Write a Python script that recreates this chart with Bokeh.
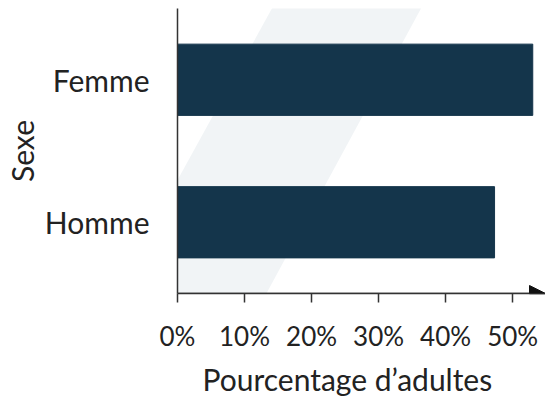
from bokeh.plotting import figure
from bokeh.models import (FactorRange, Range1d, Arrow, NormalHead, PolyAnnotation,
                          FixedTicker, Title)
from bokeh.embed import file_html
from bokeh.resources import INLINE

categories = ["Homme", "Femme"]
values = [47.3, 53.0]
tick_values = [0, 10, 20, 30, 40, 50]
tick_labels = ["0%", "10%", "20%", "30%", "40%", "50%"]
x_title = "Pourcentage d\u2019adultes"
y_title = "Sexe"

BAR = "#14354b"
TXT = "#222222"
FONT = "Lato"
X_END = 54.9

p = figure(width=545, height=400, output_backend="svg", toolbar_location=None,
           y_range=FactorRange(*categories, range_padding=0),
           x_range=Range1d(0, X_END),
           min_border_left=177, min_border_right=0, min_border_top=8, min_border_bottom=103)
p.background_fill_color = "white"
p.border_fill_color = "white"
p.outline_line_color = None
p.grid.visible = False

# faint watermark band (screen units, relative to the frame)
p.add_layout(PolyAnnotation(xs=[101, 250, 33, -119], ys=[297, 297, -103, -103],
                            xs_units="screen", ys_units="screen",
                            fill_color="#f1f4f6", fill_alpha=1, line_color=None,
                            level="underlay"))

p.hbar(y=categories, right=values, left=0, height=0.5, color=BAR)

xa = p.xaxis[0]
xa.ticker = FixedTicker(ticks=tick_values)
xa.major_label_overrides = {v: l for v, l in zip(tick_values, tick_labels)}
xa.major_tick_in = 0
xa.major_tick_out = 9
xa.major_tick_line_color = "#333333"
xa.major_tick_line_width = 1.5
xa.minor_tick_line_color = None
xa.axis_line_color = "#333333"
xa.axis_line_width = 1.5
xa.major_label_text_font = FONT
xa.major_label_text_font_size = "26px"
xa.major_label_text_color = TXT
xa.major_label_standoff = 17

ya = p.yaxis[0]
ya.major_tick_line_color = None
ya.minor_tick_line_color = None
ya.major_tick_out = 0
ya.major_tick_in = 0
ya.minor_tick_out = 0
ya.axis_line_color = "#333333"
ya.axis_line_width = 1.5
ya.major_label_text_font = FONT
ya.major_label_text_font_size = "30px"
ya.major_label_text_color = TXT
ya.major_label_standoff = 28
ya.axis_label = y_title
ya.axis_label_text_font = FONT
ya.axis_label_text_font_size = "30px"
ya.axis_label_text_font_style = "normal"
ya.axis_label_text_color = TXT
ya.axis_label_standoff = 2

p.add_layout(Title(text=x_title, align="left", offset=25, standoff=8,
                   text_font=FONT, text_font_size="30px", text_font_style="normal",
                   text_color=TXT), "below")

p.add_layout(Arrow(end=NormalHead(size=16, fill_color="#111111", line_color="#111111"),
                   x_start=0, y_start=0, x_end=X_END, y_end=0,
                   line_color="#333333", line_width=1.5))

open("out.html", "w").write(file_html(p, INLINE))
